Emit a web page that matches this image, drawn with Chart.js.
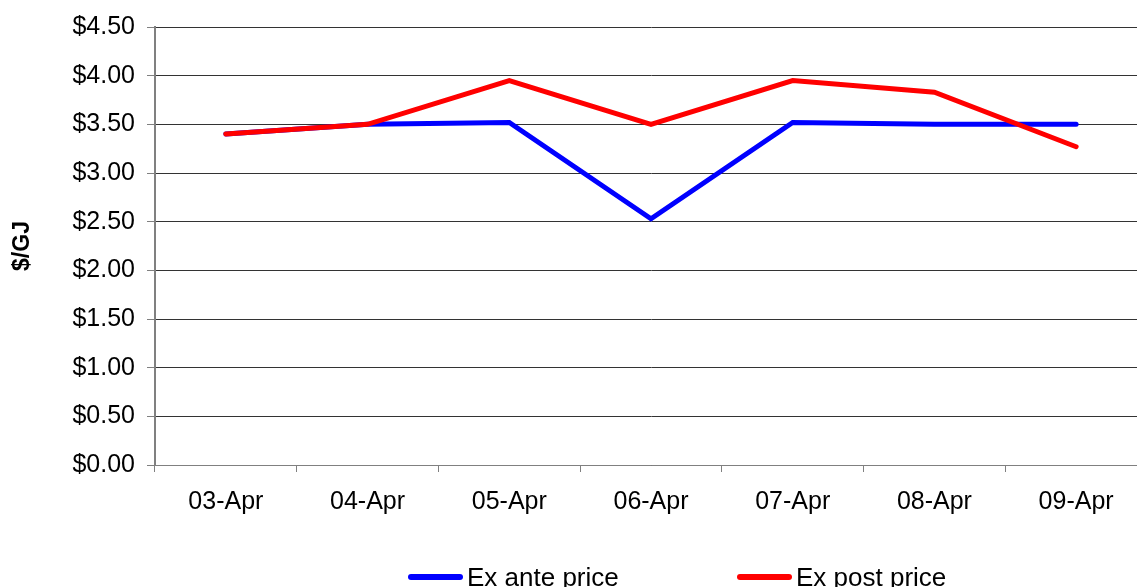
<!DOCTYPE html>
<html>
<head>
<meta charset="utf-8">
<script src="https://cdn.jsdelivr.net/npm/chart.js@4"></script>
<style>
  html, body { margin: 0; padding: 0; overflow: hidden; background: #fff; }
</style>
</head>
<body>
<canvas id="priceChart" width="1150" height="587"></canvas>
<script>
/* values */
const days = ["03-Apr", "04-Apr", "05-Apr", "06-Apr", "07-Apr", "08-Apr", "09-Apr"];
const exAnte = [3.40, 3.50, 3.52, 2.53, 3.52, 3.50, 3.50];
const exPost = [3.40, 3.50, 3.95, 3.50, 3.95, 3.83, 3.27];
const seriesNames = ["Ex ante price", "Ex post price"];
const seriesColours = ["#0000ff", "#ff0000"];

const fontFamily = "'Liberation Sans', Arial, sans-serif";
Chart.defaults.font.family = fontFamily;
Chart.defaults.color = "#000";

// legend drawn by hand so the swatches sit where they do in the original
const legendSpots = [408, 737];
const bottomLegend = {
    id: "bottomLegend",
    afterDraw(chart) {
        var c = chart.ctx;
        var y = 577;
        c.save();
        chart.data.datasets.forEach(function (ds, i) {
            var x = legendSpots[i];
            c.strokeStyle = ds.borderColor;
            c.lineWidth = 6;
            c.lineCap = "round";
            c.beginPath();
            c.moveTo(x + 3, y);
            c.lineTo(x + 52, y);
            c.stroke();
            c.fillStyle = "#000";
            c.font = "26px " + fontFamily;
            c.textBaseline = "alphabetic";
            c.fillText(ds.label, x + 59, y + 9);
        });
        c.restore();
    }
};

var ctx = document.getElementById("priceChart").getContext("2d");
var priceChart = new Chart(ctx, {
    type: "line",
    data: {
        labels: days,
        datasets: [
            {
                label: seriesNames[0],
                data: exAnte,
                borderColor: seriesColours[0],
                backgroundColor: seriesColours[0],
                borderWidth: 5,
                borderCapStyle: "round",
                pointRadius: 0,
                tension: 0,
                order: 1
            },
            {
                label: seriesNames[1],
                data: exPost,
                borderColor: seriesColours[1],
                backgroundColor: seriesColours[1],
                borderWidth: 5,
                borderCapStyle: "round",
                pointRadius: 0,
                tension: 0,
                order: 0
            }
        ]
    },
    options: {
        responsive: false,
        animation: false,
        layout: { padding: { top: 27, right: 3, bottom: 62, left: 0 } },
        plugins: {
            legend: { display: false },
            tooltip: { enabled: false }
        },
        scales: {
            x: {
                offset: true,
                grid: {
                    offset: true,
                    drawOnChartArea: false,
                    drawTicks: true,
                    tickLength: 7,
                    tickColor: "#808080"
                },
                border: { color: "#808080", width: 1 },
                ticks: { font: { size: 25 }, padding: 15, maxRotation: 0, autoSkip: false },
                afterFit(scale) { scale.height = 60; }
            },
            y: {
                min: 0,
                max: 4.5,
                grid: {
                    color: "#333",
                    lineWidth: 1,
                    tickLength: 8,
                    tickColor: "#808080"
                },
                border: { color: "#808080", width: 2 },
                ticks: {
                    stepSize: 0.5,
                    font: { size: 25 },
                    padding: 12,
                    callback: function (v) { return "$" + v.toFixed(2); }
                },
                title: {
                    display: true,
                    text: "$/GJ",
                    font: { size: 23, weight: "bold" },
                    padding: { top: 9, bottom: 0 }
                },
                afterFit(scale) { scale.width = 155; }
            }
        }
    },
    plugins: [bottomLegend]
});
</script>
</body>
</html>
